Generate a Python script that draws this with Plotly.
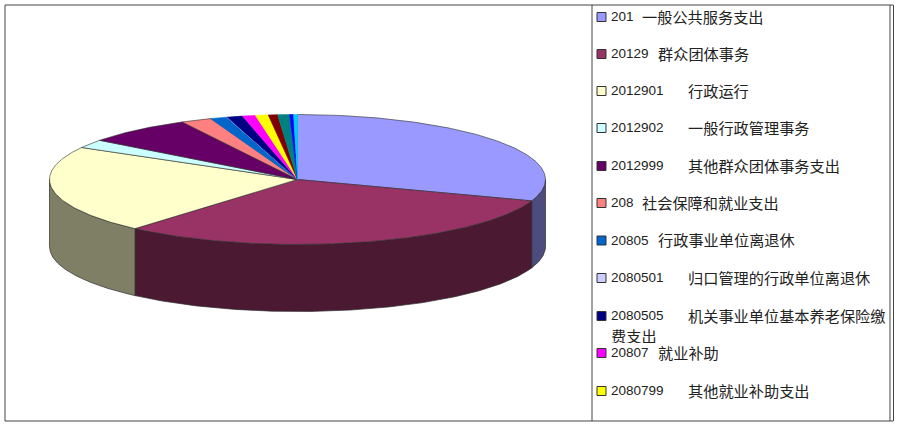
import numpy as np
import plotly.graph_objects as go

codes = ["201", "20129", "2012901", "2012902", "2012999", "208", "20805",
         "2080501", "2080505", "20807", "2080799"]
names = ["一般公共服务支出", "群众团体事务", "行政运行", "一般行政管理事务",
         "其他群众团体事务支出", "社会保障和就业支出", "行政事业单位离退休",
         "归口管理的行政单位离退休", "机关事业单位基本养老保险缴", "就业补助", "其他就业补助支出"]
shares = [30.3, 31.0, 21.8, 2.1, 7.0, 2.0, 1.1, 0.03, 1.0, 0.85, 0.83, 0.6, 0.78, 0.25, 0.25]
colors = ["#9999FF", "#993366", "#FFFFCC", "#CCFFFF", "#660066", "#FF8080", "#0066CC",
          "#CCCCFF", "#000080", "#FF00FF", "#FFFF00", "#800000", "#008080", "#0000FF", "#00CCFF"]

CX, CY, RX, RY, DEPTH = 297.5, 179.5, 248, 65, 67
OUTLINE = "#2b2b2b"

def shade(c):
    return "#%02X%02X%02X" % tuple(int(c[i:i + 2], 16) // 2 for i in (1, 3, 5))

def arc(a0, a1, dy=0.0):
    t = np.radians(np.linspace(a0, a1, max(2, int(abs(a1 - a0) * 2) + 2)))
    return CX + RX * np.sin(t), CY - RY * np.cos(t) + dy

fig = go.Figure()
edges = np.concatenate([[0], np.cumsum(shares)]) / np.sum(shares) * 360

for i, c in enumerate(colors):
    a0, a1 = max(edges[i], 90), min(edges[i + 1], 270)
    if a1 > a0:
        x1, y1 = arc(a0, a1)
        x2, y2 = arc(a1, a0, DEPTH)
        fig.add_trace(go.Scatter(x=np.r_[x1, x2, x1[0]], y=np.r_[y1, y2, y1[0]], mode="lines",
                                 fill="toself", fillcolor=shade(c),
                                 line=dict(color=OUTLINE, width=0.7), hoverinfo="skip"))

for i, c in enumerate(colors):
    x, y = arc(edges[i], edges[i + 1])
    fig.add_trace(go.Scatter(x=np.r_[CX, x, CX], y=np.r_[CY, y, CY], mode="lines",
                             fill="toself", fillcolor=c,
                             line=dict(color=OUTLINE if shares[i] > 1.5 else c, width=0.6),
                             hoverinfo="skip"))

rows = [17, 54, 91, 128, 166, 203, 240.5, 278, 316, 353, 391]
fig.add_trace(go.Scatter(x=[601.5] * len(codes), y=rows, mode="markers",
                         marker=dict(symbol="square", size=9, color=colors[:len(codes)],
                                     line=dict(color="#333333", width=1)), hoverinfo="skip"))
for code, name, row in zip(codes, names, rows):
    nx = {3: 642, 5: 658, 7: 688}[len(code)]
    fig.add_annotation(x=611, y=row, text=code, xanchor="left", yanchor="middle", showarrow=False,
                       xshift=-2, yshift=0.5, font=dict(family="Liberation Sans", size=13.5, color="#222222"))
    fig.add_annotation(x=nx, y=row, text=name, xanchor="left", yanchor="middle", showarrow=False,
                       xshift=-2, yshift=1.5, font=dict(family="Noto Sans CJK SC", size=15.2, color="#222222"))
fig.add_annotation(x=611, y=334, text="费支出", xanchor="left", yanchor="middle", showarrow=False,
                   xshift=-2, height=17, font=dict(family="Noto Sans CJK SC", size=15.2, color="#222222"))

frame = [(5, 5, 893, 5), (5, 421, 893, 421), (5, 5, 5, 421), (592, 5, 592, 421),
         (890, 5, 890, 421), (893.5, 5, 893.5, 421)]
for x0, y0, x1, y1 in frame:
    fig.add_shape(type="line", x0=x0, y0=y0, x1=x1, y1=y1, line=dict(color="#444444", width=1))

fig.update_layout(width=900, height=427, margin=dict(l=0, r=0, t=0, b=0), showlegend=False,
                  paper_bgcolor="white", plot_bgcolor="white",
                  xaxis=dict(range=[0, 900], visible=False, fixedrange=True),
                  yaxis=dict(range=[427, 0], visible=False, fixedrange=True))
fig.write_html("out.html", config=dict(displayModeBar=False),
               post_script="document.body.style.margin='0';document.documentElement.style.overflow='hidden';")
